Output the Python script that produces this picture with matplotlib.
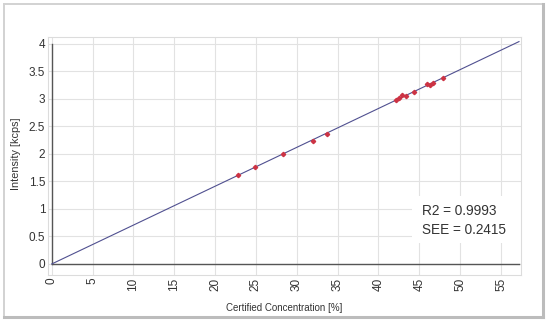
import numpy as np
import matplotlib
matplotlib.use("Agg")
import matplotlib.pyplot as plt
from matplotlib.patches import Rectangle
from matplotlib.lines import Line2D

plt.rcParams['font.family'] = ['Liberation Sans', 'DejaVu Sans']

# certified concentration [%] vs measured intensity [kcps]
conc = [22.8, 24.9, 28.35, 31.95, 33.7, 42.1, 42.5, 42.9, 43.4, 44.4, 45.95, 46.3, 46.7, 47.85]
intensity = [1.615, 1.766, 2.0, 2.24, 2.355, 2.975, 3.02, 3.065, 3.05, 3.12, 3.26, 3.25, 3.29, 3.37]
line_x = [0, 57.2]
r2_text = "R2 = 0.9993"
see_text = "SEE = 0.2415"

x = np.array(conc)
y = np.array(intensity)
slope = np.sum(x * y) / np.sum(x * x)   # fit through origin
line_y = [slope * v for v in line_x]

fig = plt.figure(figsize=(5.47, 3.23), dpi=100)
ax = fig.add_axes([0.0878, 0.1486, 0.8647, 0.7368])

ax.set_xlim(-0.45, 57.45)
ax.set_ylim(-0.2, 4.12)
ax.set_xticks(np.arange(0, 56, 5))
ax.set_yticks(np.arange(0, 4.01, 0.5))
ax.set_yticklabels(["0", "0.5", "1", "1.5", "2", "2.5", "3", "3.5", "4"])
ax.tick_params(axis='x', rotation=90, length=0, labelsize=8.5, colors='#333333', pad=2)
ax.tick_params(axis='y', length=0, labelsize=8.5, colors='#333333', pad=2)
ax.grid(True, color='#e2e2e2', linewidth=0.8)
ax.set_axisbelow(True)
for s in ax.spines.values():
    s.set_color('#dcdcdc')
    s.set_linewidth(0.8)

ax.plot([0, 0], [0, 4.0], color='#555555', linewidth=1.0, zorder=2)
ax.plot([0, line_x[1]], [0, 0], color='#555555', linewidth=1.0, zorder=2)

ax.plot(line_x, line_y, color='#505090', linewidth=0.8, zorder=3)
ax.plot(conc, intensity, linestyle='none', marker='D', markersize=2.2,
        color='#cc3344', zorder=4)

ax.add_patch(Rectangle((0.77, 0.134), 0.24, 0.20, transform=ax.transAxes,
                       facecolor='white', edgecolor='none', zorder=1.5, clip_on=False))
ax.text(0.791, 0.269, r2_text, transform=ax.transAxes, fontsize=9.8,
        color='#333333', va='center', ha='left', zorder=5)
ax.text(0.791, 0.189, see_text, transform=ax.transAxes, fontsize=9.8,
        color='#333333', va='center', ha='left', zorder=5)

ax.set_xlabel("Certified Concentration [%]", fontsize=7.0, color='#333333')
ax.set_ylabel("Intensity [kcps]", fontsize=7.8, color='#333333')
ax.xaxis.set_label_coords(0.5, -0.118)
ax.yaxis.set_label_coords(-0.058, 0.51)

# outer frame with shadow on right and bottom
x0, x1 = 4 / 547, 543 / 547
y0, y1 = 1 - 317 / 323, 1 - 4 / 323
fig.lines.append(Line2D([x0, x0], [y0, y1], transform=fig.transFigure, color='#d2d2d2', linewidth=1.4))
fig.lines.append(Line2D([x0, x1], [y1, y1], transform=fig.transFigure, color='#d2d2d2', linewidth=1.4))
fig.lines.append(Line2D([x1, x1], [y0, y1], transform=fig.transFigure, color='#bcbcbc', linewidth=2.2))
fig.lines.append(Line2D([x0, x1], [y0, y0], transform=fig.transFigure, color='#bcbcbc', linewidth=2.2))

fig.savefig("out.png", dpi=100)
